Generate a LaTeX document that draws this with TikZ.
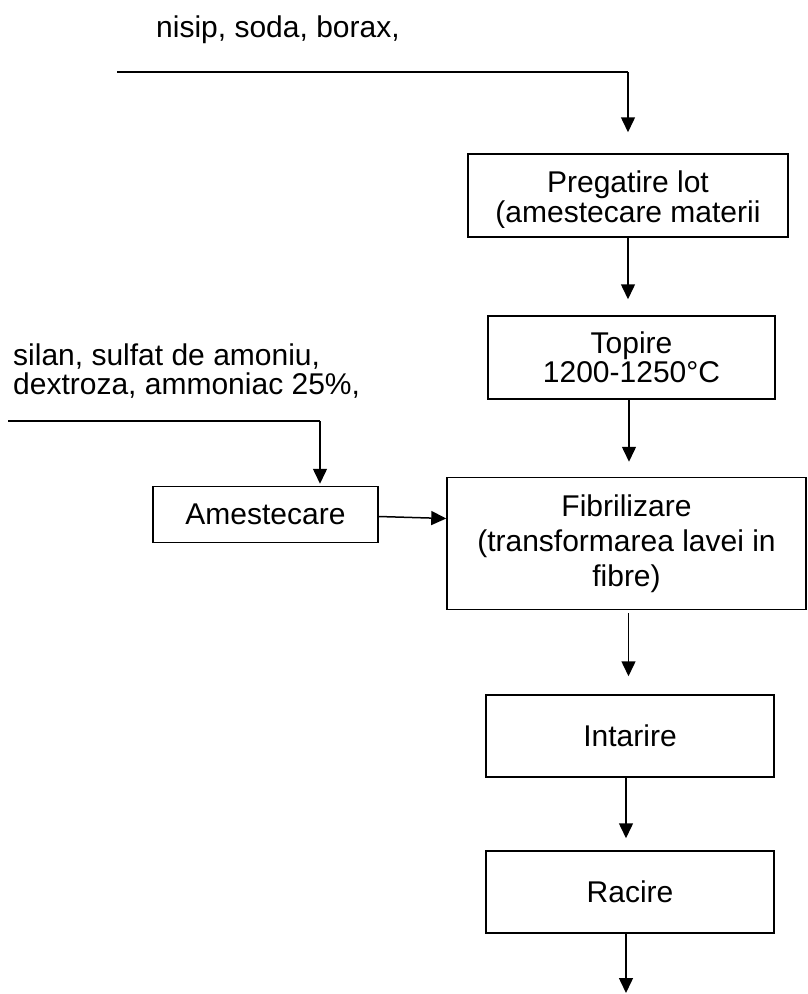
\documentclass[tikz,border=0pt]{standalone}
\usepackage{fontspec}
\setmainfont{Liberation Sans}
\usetikzlibrary{arrows.meta}
\begin{document}
\begin{tikzpicture}[x=1pt,y=-1pt,
  every node/.style={font=\fontsize{30}{30}\selectfont, inner sep=0pt},
  procbox/.style={draw, line width=1.5pt, align=center},
  flow/.style={line width=1.5pt, -{Triangle[width=14pt,length=15pt]}},
  plain/.style={line width=1.5pt}]
\useasboundingbox (0,0) rectangle (807,994);

% input texts
\node[anchor=base west] (in1txt) at (156,37) {nisip, soda, borax,};
\node[anchor=base west, align=left] (in2txt) at (13,394) {silan, sulfat de amoniu,\\[-1.5pt]dextroza, ammoniac 25\%,};

% boxes
\node[procbox, minimum width=320, minimum height=83] (preg) at (628,195.5) {};
\begin{scope}
  \clip ([xshift=1pt,yshift=-1pt]preg.north west) rectangle ([xshift=-1pt,yshift=10pt]preg.south east);
  \node[align=center] (pregtxt) at (628,200) {Pregatire lot\\(amestecare materii};
\end{scope}
\node[procbox, minimum width=287, minimum height=83] (top) at (631.5,357.5) {Topire\\[-1pt]1200-1250°C};
\node[procbox, minimum width=225, minimum height=56] (ame) at (265.5,514.5) {Amestecare};
\node[procbox, minimum width=359, minimum height=132] (fib) at (626.5,543.5) {Fibrilizare\\[5.5pt](transformarea lavei in\\[5pt]fibre)};
\node[procbox, minimum width=288, minimum height=82] (int) at (630,736) {Intarire};
\node[procbox, minimum width=288, minimum height=82] (rac) at (630,892) {Racire};

% coordinates
\coordinate (a1) at (117,72);
\coordinate (a2) at (628,72);
\coordinate (b1) at (8,421);
\coordinate (b2) at (320,421);
\coordinate (out) at (626,993);

% connectors
\draw[plain] (a1) -- (a2);
\draw[flow, shorten >=21pt] (a2) -- (a2 |- preg.north);
\draw[flow, shorten >=16pt] (preg.south) -- (preg.south |- top.north);
\draw[flow, shorten >=15pt] ([xshift=-2.5pt]top.south) -- ([xshift=-2.5pt]top.south |- fib.north);
\draw[plain] (b1) -- (b2);
\draw[flow, shorten >=2pt] (b2) -- (b2 |- ame.north);
\draw[flow] ([yshift=-2pt]ame.east) -- ([yshift=-4pt]ame.east -| fib.west);
\draw[flow, shorten <=3pt, shorten >=18pt] ([xshift=2pt]fib.south) -- ([xshift=2pt]fib.south |- int.north);
\draw[flow, shorten >=12pt] ([xshift=-4pt]int.south) -- ([xshift=-4pt]int.south |- rac.north);
\draw[flow] ([xshift=-4pt]rac.south) -- (out);
\end{tikzpicture}
\end{document}
